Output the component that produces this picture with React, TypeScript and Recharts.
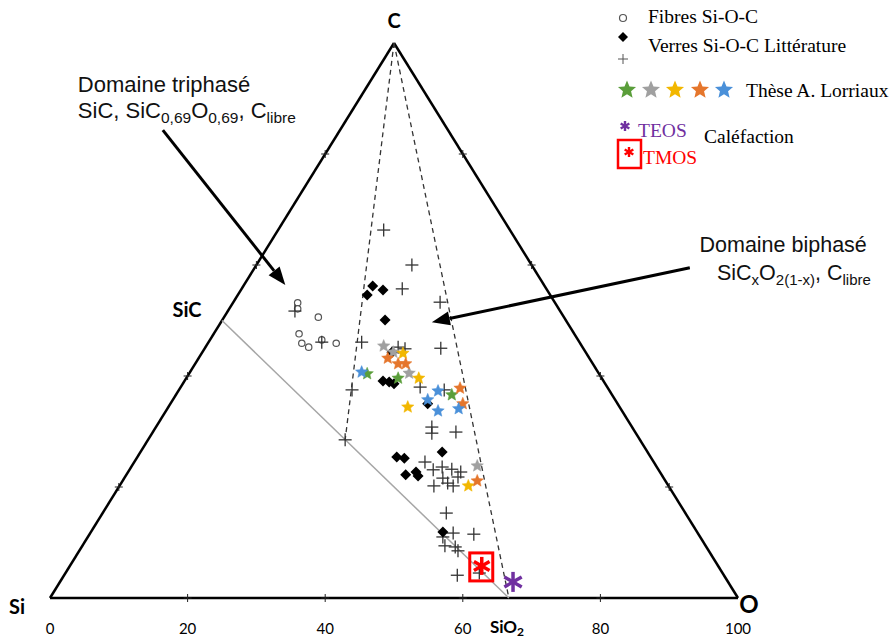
import React from "react";
import { ScatterChart, Scatter, XAxis, YAxis, ReferenceLine, ReferenceDot } from "recharts";

// x = position on the Si–O scale (at.% O + at.% C / 2), c = at.% C
type Pt = { x: number; c: number };

const fibres: Pt[] = [
  { x: 36.0, c: 53.2 }, { x: 36.0, c: 52.1 }, { x: 39.0, c: 50.6 }, { x: 36.2, c: 47.6 },
  { x: 36.6, c: 45.9 }, { x: 37.6, c: 45.2 }, { x: 39.5, c: 46.5 }, { x: 41.6, c: 45.9 },
];

const verresDiamonds: Pt[] = [
  { x: 46.9, c: 56.2 }, { x: 48.4, c: 55.5 }, { x: 46.1, c: 54.6 }, { x: 48.7, c: 50.1 },
  { x: 49.7, c: 44.3 }, { x: 48.4, c: 39.1 }, { x: 49.3, c: 38.9 }, { x: 50.0, c: 38.6 },
  { x: 54.9, c: 35.0 }, { x: 50.4, c: 25.4 }, { x: 51.5, c: 25.2 }, { x: 57.0, c: 26.3 },
  { x: 51.7, c: 22.2 }, { x: 53.2, c: 22.7 }, { x: 53.5, c: 22.0 }, { x: 57.1, c: 11.9 },
];

const verresCrosses: Pt[] = [
  { x: 48.5, c: 66.3 }, { x: 52.6, c: 60.0 }, { x: 51.2, c: 55.7 }, { x: 56.7, c: 53.3 },
  { x: 45.3, c: 46.1 }, { x: 50.6, c: 45.2 }, { x: 51.6, c: 44.9 }, { x: 56.8, c: 45.0 },
  { x: 43.9, c: 37.5 }, { x: 53.8, c: 38.0 }, { x: 57.3, c: 37.5 }, { x: 55.5, c: 30.8 },
  { x: 55.5, c: 29.7 }, { x: 59.0, c: 29.9 }, { x: 54.5, c: 24.5 }, { x: 55.7, c: 23.1 },
  { x: 57.0, c: 23.6 }, { x: 58.4, c: 23.2 }, { x: 59.7, c: 22.7 }, { x: 57.1, c: 21.6 },
  { x: 57.8, c: 20.7 }, { x: 55.8, c: 20.2 }, { x: 58.6, c: 20.2 }, { x: 59.3, c: 21.8 },
  { x: 42.9, c: 28.5 }, { x: 57.6, c: 15.3 }, { x: 57.1, c: 11.0 }, { x: 58.6, c: 11.7 },
  { x: 61.6, c: 11.5 }, { x: 57.4, c: 9.4 }, { x: 58.9, c: 9.2 }, { x: 59.3, c: 8.5 },
  { x: 59.2, c: 4.1 }, { x: 35.6, c: 51.7 }, { x: 39.5, c: 46.1 }, { x: 62.4, c: 4.5 },
];

const starsGreen: Pt[] = [{ x: 46.1, c: 40.4 }, { x: 50.6, c: 39.6 }, { x: 58.4, c: 36.6 }];
const starsGray: Pt[] = [{ x: 48.5, c: 45.4 }, { x: 49.9, c: 44.3 }, { x: 52.2, c: 40.5 }, { x: 62.1, c: 23.8 }];
const starsYellow: Pt[] = [{ x: 51.3, c: 44.1 }, { x: 53.6, c: 39.6 }, { x: 52.0, c: 34.4 }, { x: 60.8, c: 20.2 }];
const starsOrange: Pt[] = [
  { x: 49.1, c: 43.2 }, { x: 50.6, c: 42.2 }, { x: 51.7, c: 42.2 }, { x: 59.6, c: 37.8 },
  { x: 60.0, c: 35.0 }, { x: 62.1, c: 21.1 },
];
const starsBlue: Pt[] = [
  { x: 45.3, c: 40.7 }, { x: 56.4, c: 37.3 }, { x: 54.9, c: 35.7 }, { x: 56.4, c: 33.7 }, { x: 59.4, c: 34.1 },
];

const teos: Pt[] = [{ x: 67.3, c: 2.9 }];
const tmos: Pt[] = [{ x: 62.9, c: 5.6 }];

const edgeTicks = [20, 40, 60, 80];
const scaleLabels = [0, 20, 40, 60, 80, 100];

const SI = { x: 0, y: 0 };
const C = { x: 50, y: 100 };
const O = { x: 100, y: 0 };
const SIC = { x: 25, y: 50 };
const SIO2 = { x: 66.7, y: 0 };
const CORNER = { x: 42.9, y: 28.5 };

const tickPts: Pt[] = edgeTicks.flatMap((t) => [
  { x: t, c: 0 },
  { x: t / 2, c: t },
  { x: 100 - t / 2, c: t },
]);

const SANS = "Lato, 'Liberation Sans', sans-serif";
const ARIAL = "'Liberation Sans', Arial, sans-serif";
const SERIF = "'Liberation Serif', 'Times New Roman', serif";

const starPoints = (cx: number, cy: number, r: number) => {
  const pts: string[] = [];
  for (let i = 0; i < 10; i++) {
    const rr = i % 2 === 0 ? r : r * 0.45;
    const a = -Math.PI / 2 + (i * Math.PI) / 5;
    pts.push(`${cx + rr * Math.cos(a)},${cy + rr * Math.sin(a)}`);
  }
  return pts.join(" ");
};

const starShape = (fill: string, r = 6.5) => (p: any) => (
  <polygon points={starPoints(p.cx, p.cy, r)} fill={fill} stroke={fill} strokeWidth={0.5} />
);

const crossShape = (size: number, color: string, w: number) => (p: any) => (
  <g stroke={color} strokeWidth={w}>
    <line x1={p.cx - size} y1={p.cy} x2={p.cx + size} y2={p.cy} />
    <line x1={p.cx} y1={p.cy - size} x2={p.cx} y2={p.cy + size} />
  </g>
);

const diamondShape = (p: any) => (
  <polygon points={`${p.cx},${p.cy - 5.5} ${p.cx + 5.5},${p.cy} ${p.cx},${p.cy + 5.5} ${p.cx - 5.5},${p.cy}`} fill="#000" />
);

const circleShape = (p: any) => <circle cx={p.cx} cy={p.cy} r={3.2} fill="#fff" stroke="#555" strokeWidth={1.2} />;

const asterisk = (cx: number, cy: number, r: number, color: string, w: number) => (
  <g stroke={color} strokeWidth={w} strokeLinecap="butt">
    {[90, 30, -30].map((a) => {
      const rad = (a * Math.PI) / 180;
      return (
        <line key={a} x1={cx - r * Math.cos(rad)} y1={cy - r * Math.sin(rad)} x2={cx + r * Math.cos(rad)} y2={cy + r * Math.sin(rad)} />
      );
    })}
  </g>
);

const teosShape = (p: any) => asterisk(p.cx, p.cy, 10, "#7030a0", 3.5);
const tmosShape = (p: any) => (
  <g>
    <rect x={p.cx - 13} y={p.cy - 14} width={23} height={28} fill="none" stroke="#ff0000" strokeWidth={3} />
    {asterisk(p.cx - 1, p.cy - 1, 9, "#ff0000", 3.5)}
  </g>
);

const arrowShape = (p: any) => {
  const { x1, y1, x2, y2 } = p;
  const ang = Math.atan2(y2 - y1, x2 - x1);
  const L = 18;
  const W = 7;
  const bx = x2 - L * Math.cos(ang);
  const by = y2 - L * Math.sin(ang);
  const px = -Math.sin(ang) * W;
  const py = Math.cos(ang) * W;
  return (
    <g>
      <line x1={x1} y1={y1} x2={bx} y2={by} stroke="#000" strokeWidth={3} />
      <polygon points={`${x2},${y2} ${bx + px},${by + py} ${bx - px},${by - py}`} fill="#000" />
    </g>
  );
};

const Legend = () => (
  <svg width={289} height={175} style={{ position: "absolute", left: 600, top: 0 }}>
    <g fontFamily={SERIF} fontSize={19.5} fill="#000">
      <circle cx={23} cy={18} r={3.5} fill="#fff" stroke="#555" strokeWidth={1.2} />
      <text x={48} y={23}>Fibres Si-O-C</text>
      <polygon points="23,32 28,37 23,42 18,37" fill="#000" />
      <text x={48} y={52}>Verres Si-O-C Littérature</text>
      {crossShape(5, "#555", 1)({ cx: 23, cy: 59 })}
      {[["#5a9e3a", 27], ["#a0a0a0", 51], ["#f2b700", 75], ["#e5762c", 100], ["#4a90d9", 124]].map(([col, x]) => (
        <polygon key={col as string} points={starPoints(x as number, 90, 9.5)} fill={col as string} />
      ))}
      <text x={146} y={97}>Thèse A. Lorriaux</text>
      {asterisk(25, 126, 5, "#7030a0", 2.4)}
      <text x={38} y={137} fill="#7030a0">TEOS</text>
      <text x={104} y={143}>Caléfaction</text>
      <rect x={18} y={140} width={23} height={28} fill="none" stroke="#ff0000" strokeWidth={2.5} />
      {asterisk(29, 152, 5, "#ff0000", 2.4)}
      <text x={43} y={164} fill="#ff0000">TMOS</text>
    </g>
  </svg>
);

const textDot = (render: (cx: number, cy: number) => React.ReactNode) => (p: any) => <g>{render(p.cx, p.cy)}</g>;

export default function App() {
  return (
    <div style={{ position: "absolute", left: 0, top: 0, width: 889, height: 638, background: "#fff" }}>
      <ScatterChart width={889} height={638} margin={{ top: 43, right: 151, bottom: 40, left: 50 }}>
        <XAxis type="number" dataKey="x" domain={[0, 100]} hide />
        <YAxis type="number" dataKey="c" domain={[0, 100]} hide />

        {/* triangle */}
        <ReferenceLine segment={[SI, O]} stroke="#000" strokeWidth={2.5} ifOverflow="visible" />
        <ReferenceLine segment={[SI, C]} stroke="#000" strokeWidth={2.5} ifOverflow="visible" />
        <ReferenceLine segment={[C, O]} stroke="#000" strokeWidth={2.5} ifOverflow="visible" />
        {/* SiC - SiO2 tie line and biphase domain */}
        <ReferenceLine segment={[SIC, SIO2]} stroke="#a6a6a6" strokeWidth={1.5} ifOverflow="visible" />
        <ReferenceLine segment={[C, CORNER]} stroke="#333" strokeWidth={1.3} strokeDasharray="5 4" ifOverflow="visible" />
        <ReferenceLine segment={[C, SIO2]} stroke="#333" strokeWidth={1.3} strokeDasharray="5 4" ifOverflow="visible" />

        {/* arrows */}
        <ReferenceLine segment={[{ x: 16.4, y: 84.3 }, { x: 34.2, y: 56.4 }]} shape={arrowShape} ifOverflow="visible" />
        <ReferenceLine segment={[{ x: 93.0, y: 59.5 }, { x: 55.5, y: 49.7 }]} shape={arrowShape} ifOverflow="visible" />

        <Scatter data={tickPts} shape={crossShape(4, "#222", 1)} isAnimationActive={false} />
        <Scatter data={fibres} shape={circleShape} isAnimationActive={false} />
        <Scatter data={verresCrosses} shape={crossShape(6.5, "#333", 1.3)} isAnimationActive={false} />
        <Scatter data={verresDiamonds} shape={diamondShape} isAnimationActive={false} />
        <Scatter data={starsGreen} shape={starShape("#5a9e3a")} isAnimationActive={false} />
        <Scatter data={starsGray} shape={starShape("#a0a0a0")} isAnimationActive={false} />
        <Scatter data={starsYellow} shape={starShape("#f2b700")} isAnimationActive={false} />
        <Scatter data={starsOrange} shape={starShape("#e5762c")} isAnimationActive={false} />
        <Scatter data={starsBlue} shape={starShape("#4a90d9")} isAnimationActive={false} />
        <Scatter data={teos} shape={teosShape} isAnimationActive={false} />
        <Scatter data={tmos} shape={tmosShape} isAnimationActive={false} />

        {/* scale labels */}
        {scaleLabels.map((v) => (
          <ReferenceDot key={v} x={v} y={0} ifOverflow="visible"
            shape={textDot((cx, cy) => (
              <text x={cx} y={cy + 36} textAnchor="middle" fontFamily={SANS} fontSize={15} fill="#000">{v}</text>
            ))} />
        ))}

        {/* vertex labels */}
        <ReferenceDot x={C.x} y={C.y} ifOverflow="visible" shape={textDot((cx, cy) => (
          <text x={cx} y={cy - 15} textAnchor="middle" fontFamily={SANS} fontWeight="bold" fontSize={20}>C</text>
        ))} />
        <ReferenceDot x={SI.x} y={SI.y} ifOverflow="visible" shape={textDot((cx, cy) => (
          <text x={cx - 33} y={cy + 16} textAnchor="middle" fontFamily={SANS} fontWeight="bold" fontSize={20}>Si</text>
        ))} />
        <ReferenceDot x={O.x} y={O.y} ifOverflow="visible" shape={textDot((cx, cy) => (
          <text x={cx + 11} y={cy + 15} textAnchor="middle" fontFamily={SANS} fontWeight="bold" fontSize={24}>O</text>
        ))} />
        <ReferenceDot x={SIC.x} y={SIC.y} ifOverflow="visible" shape={textDot((cx, cy) => (
          <text x={cx - 35} y={cy - 4} textAnchor="middle" fontFamily={SANS} fontWeight="bold" fontSize={20}>SiC</text>
        ))} />
        <ReferenceDot x={SIO2.x} y={SIO2.y} ifOverflow="visible" shape={textDot((cx, cy) => (
          <text x={cx - 19} y={cy + 35} fontFamily={SANS} fontWeight="bold" fontSize={17}>
            SiO<tspan fontSize={12} dy={3}>2</tspan>
          </text>
        ))} />

        {/* domain annotations */}
        <ReferenceDot x={16.4} y={84.3} ifOverflow="visible" shape={textDot((cx, cy) => (
          <g fontFamily={ARIAL} fill="#111">
            <text x={cx - 85} y={cy - 38} fontSize={22}>Domaine triphasé</text>
            <text x={cx - 85} y={cy - 12} fontSize={22}>
              SiC, SiC<tspan fontSize={15.5} dy={5}>0,69</tspan>
              <tspan dy={-5}>O</tspan>
              <tspan fontSize={15.5} dy={5}>0,69</tspan>
              <tspan dy={-5}>, C</tspan>
              <tspan fontSize={15.5} dy={5}>libre</tspan>
            </text>
          </g>
        ))} />
        <ReferenceDot x={93.0} y={59.5} ifOverflow="visible" shape={textDot((cx, cy) => (
          <g fontFamily={ARIAL} fill="#111">
            <text x={cx + 177} y={cy - 16} fontSize={21.5} textAnchor="end">Domaine biphasé</text>
            <text x={cx + 181} y={cy + 12} fontSize={21.5} textAnchor="end">
              SiC<tspan fontSize={15} dy={5}>x</tspan>
              <tspan dy={-5}>O</tspan>
              <tspan fontSize={15} dy={5}>2(1-x)</tspan>
              <tspan dy={-5}>, C</tspan>
              <tspan fontSize={15} dy={5}>libre</tspan>
            </text>
          </g>
        ))} />
      </ScatterChart>
      <Legend />
    </div>
  );
}
